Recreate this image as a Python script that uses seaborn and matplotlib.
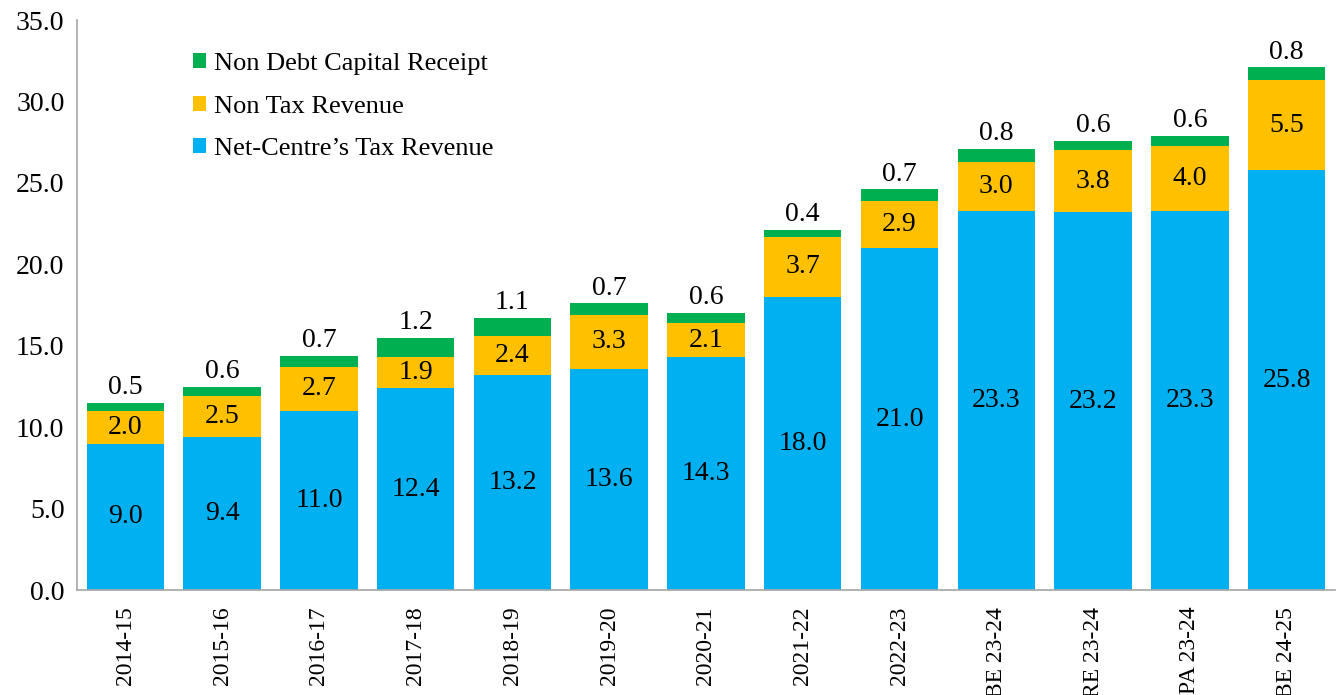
import numpy as np
import pandas as pd
import matplotlib
matplotlib.use("Agg")
import matplotlib.pyplot as plt
import seaborn as sns
from matplotlib.ticker import FixedLocator, FormatStrFormatter

# --- data ---
years = ["2014-15", "2015-16", "2016-17", "2017-18", "2018-19", "2019-20",
         "2020-21", "2021-22", "2022-23", "BE 23-24", "RE 23-24", "PA 23-24",
         "BE 24-25"]
tax_revenue = [9.0, 9.4, 11.0, 12.4, 13.2, 13.6, 14.3, 18.0, 21.0, 23.3, 23.2, 23.3, 25.8]
non_tax_revenue = [2.0, 2.5, 2.7, 1.9, 2.4, 3.3, 2.1, 3.7, 2.9, 3.0, 3.8, 4.0, 5.5]
non_debt_capital = [0.5, 0.6, 0.7, 1.2, 1.1, 0.7, 0.6, 0.4, 0.7, 0.8, 0.6, 0.6, 0.8]

BLUE, ORANGE, GREEN = "#00B0F0", "#FFC000", "#00B050"
AXIS_GREY = "#A6A6A6"

sns.set_style("white")
plt.rcParams["font.family"] = ["Liberation Serif", "DejaVu Serif"]

df = pd.DataFrame({
    "year": years,
    "tax": tax_revenue,
    "non_tax": non_tax_revenue,
    "ndcr": non_debt_capital,
})

fig = plt.figure(figsize=(13.41, 6.95), dpi=100)
ax = fig.add_axes([0.0574, 0.151, 0.9381, 0.820])

# stacked bars, one seaborn call per layer
bar_kw = dict(width=0.8, saturation=1, linewidth=0, ax=ax)
sns.barplot(data=df, x="year", y="tax", color=BLUE,
            label="Net-Centre\u2019s Tax Revenue", **bar_kw)
sns.barplot(data=df, x="year", y="non_tax", color=ORANGE,
            bottom=df["tax"], label="Non Tax Revenue", **bar_kw)
sns.barplot(data=df, x="year", y="ndcr", color=GREEN,
            bottom=df["tax"] + df["non_tax"],
            label="Non Debt Capital Receipt", **bar_kw)

tax_bars, non_tax_bars, ndcr_bars = ax.containers[:3]
ax.bar_label(tax_bars, labels=[f"{v:.1f}" for v in tax_revenue],
             label_type="center", fontsize=20, color="black")
ax.bar_label(non_tax_bars, labels=[f"{v:.1f}" for v in non_tax_revenue],
             label_type="center", fontsize=20, color="black")
ax.bar_label(ndcr_bars, labels=[f"{v:.1f}" for v in non_debt_capital],
             label_type="edge", padding=2, fontsize=20, color="black")

# axes styling
ax.set_ylim(0, 35)
ax.set_xlim(-0.5, len(years) - 0.5)
ax.yaxis.set_major_locator(FixedLocator(np.arange(0, 35.1, 5)))
ax.yaxis.set_major_formatter(FormatStrFormatter("%.1f"))
ax.set_xlabel("")
ax.set_ylabel("")

for side in ["top", "right"]:
    ax.spines[side].set_visible(False)
for side in ["left", "bottom"]:
    ax.spines[side].set_color(AXIS_GREY)
    ax.spines[side].set_linewidth(1.2)

ax.tick_params(axis="y", which="major", length=6, width=1.2, color=AXIS_GREY,
               direction="out", labelsize=20, labelcolor="black", pad=3)
ax.tick_params(axis="x", which="major", length=0, labelsize=17,
               labelcolor="black", pad=12, labelrotation=90)
# category boundary ticks, Excel style
ax.xaxis.set_minor_locator(FixedLocator(np.arange(-0.5, len(years), 1.0)))
ax.tick_params(axis="x", which="minor", length=7, width=1.2, color=AXIS_GREY,
               direction="out")
for lbl in ax.get_xticklabels():
    lbl.set_verticalalignment("top")

# legend: green on top, blue at bottom
handles, labels = ax.get_legend_handles_labels()
ax.legend(handles[::-1], labels[::-1], loc="upper left",
          bbox_to_anchor=(0.073, 0.984), frameon=False, fontsize=19,
          handlelength=0.5, handleheight=0.5, handletextpad=0.3,
          labelspacing=0.78, labelcolor="black")

fig.savefig("out.png", dpi=100)
